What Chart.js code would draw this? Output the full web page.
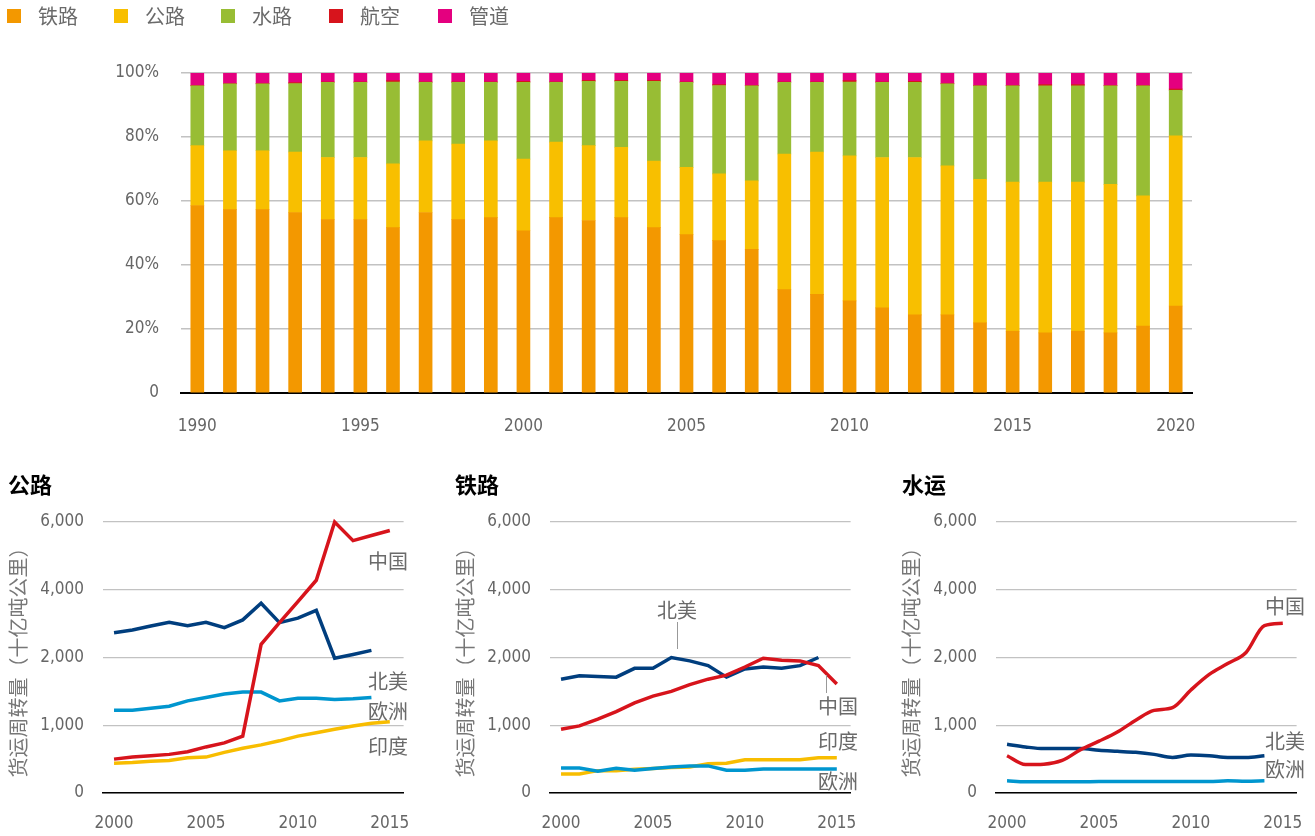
<!DOCTYPE html>
<html lang="zh">
<head>
<meta charset="utf-8">
<script src="https://cdn.jsdelivr.net/npm/chart.js@4.4.1/dist/chart.umd.min.js"></script>
<style>
  body { margin: 0; width: 1315px; height: 836px; position: relative; overflow: hidden; background: #fff;
         font-family: "Noto Sans CJK SC", sans-serif; }
  canvas { position: absolute; }
  .lg-box { position: absolute; top: 9px; width: 14px; height: 14px; }
  .lg-text { position: absolute; top: 3px; font-size: 20px; line-height: 26px; color: #6a6a6a; }
  .title { position: absolute; top: 468px; font-size: 22px; line-height: 30px; font-weight: bold; color: #000; }
  .tag { position: absolute; width: 60px; text-align: right; font-size: 20px; line-height: 20px; color: #6a6a6a; }
  .lead { position: absolute; width: 1px; background: #999; }
</style>
</head>
<body>
<canvas id="share" width="1315" height="450" style="left:0;top:0"></canvas>
<canvas id="road" width="430" height="376" style="left:0;top:460px"></canvas>
<canvas id="rail" width="430" height="376" style="left:447px;top:460px"></canvas>
<canvas id="water" width="430" height="376" style="left:893px;top:460px"></canvas>
<div id="legend"></div>
<div class="title" style="left:8px">公路</div>
<div class="title" style="left:455px">铁路</div>
<div class="title" style="left:902px">水运</div>
<div id="tags"></div>
<script>
// 上图：各运输方式占比（%）
const shareYears = [1990, 1991, 1992, 1993, 1994, 1995, 1996, 1997, 1998, 1999, 2000, 2001, 2002, 2003, 2004, 2005,
  2006, 2007, 2008, 2009, 2010, 2011, 2012, 2013, 2014, 2015, 2016, 2017, 2018, 2019, 2020];
const railShare = [58.6, 57.3, 57.3, 56.4, 54.2, 54.2, 51.7, 56.4, 54.2, 54.8, 50.7, 54.8, 53.9, 54.8, 51.7, 49.5,
  47.6, 44.9, 32.3, 30.8, 28.8, 26.6, 24.4, 24.4, 21.9, 19.3, 18.8, 19.3, 18.8, 20.9, 27.2];
const roadShare = [18.7, 18.4, 18.4, 18.9, 19.4, 19.4, 19.9, 22.4, 23.6, 24.0, 22.4, 23.6, 23.4, 22.0, 20.8, 21.0,
  20.9, 21.4, 42.4, 44.5, 45.3, 47.0, 49.2, 46.6, 44.9, 46.6, 47.1, 46.6, 46.4, 40.7, 53.2];
const waterShare = [18.7, 20.9, 20.9, 21.4, 23.5, 23.5, 25.6, 18.3, 19.3, 18.3, 24.0, 18.7, 20.1, 20.6, 24.9, 26.6,
  27.6, 29.7, 22.4, 21.8, 23.1, 23.5, 23.5, 25.6, 29.2, 30.1, 30.1, 30.1, 30.8, 34.4, 14.2];
const airShare = [0.1, 0.1, 0.1, 0.3, 0.1, 0.1, 0.4, 0.1, 0.1, 0.1, 0.3, 0.1, 0.3, 0.3, 0.3, 0.1,
  0.3, 0.1, 0.1, 0.1, 0.4, 0.1, 0.3, 0.1, 0.1, 0.1, 0.4, 0.4, 0.1, 0.1, 0.4];
const pipeShare = [3.9, 3.3, 3.3, 3.0, 2.8, 2.8, 2.4, 2.8, 2.8, 2.8, 2.6, 2.8, 2.3, 2.3, 2.3, 2.8,
  3.6, 3.9, 2.8, 2.8, 2.4, 2.8, 2.6, 3.3, 3.9, 3.9, 3.6, 3.6, 3.9, 3.9, 5.0];
const shareTickLabels = ["0", "20%", "40%", "60%", "80%", "100%"];

// 下图：货运周转量（十亿吨公里），从2000年起
const roadChina = [500, 530, 550, 570, 610, 680, 740, 840, 2390, 3030, 3650, 4280, 6000, 5450, 5600, 5750];
const roadNorthAmerica = [2730, 2810, 2930, 3040, 2940, 3040, 2880, 3110, 3600, 3030, 3160, 3390, 1990, 2090, 2210];
const roadEurope = [1220, 1220, 1250, 1280, 1360, 1410, 1460, 1490, 1490, 1360, 1400, 1400, 1380, 1390, 1410];
const roadIndia = [440, 450, 470, 480, 520, 530, 600, 660, 710, 770, 840, 890, 940, 990, 1030, 1050];

const railChina = [940, 990, 1090, 1200, 1330, 1430, 1500, 1600, 1680, 1740, 1860, 1990, 1960, 1950, 1880, 1610];
const railNorthAmerica = [1680, 1730, 1720, 1710, 1840, 1840, 2000, 1950, 1880, 1710, 1830, 1860, 1840, 1880, 2000];
const railEurope = [370, 370, 320, 365, 335, 360, 385, 400, 400, 335, 335, 355, 355, 355, 355, 355];
const railIndia = [280, 280, 330, 330, 350, 360, 375, 385, 430, 440, 490, 490, 490, 490, 520, 520];

const waterChina = [550, 420, 425, 480, 640, 765, 900, 1075, 1220, 1260, 1520, 1750, 1910, 2150, 2940, 3010];
const waterNorthAmerica = [720, 680, 655, 655, 655, 630, 615, 600, 570, 525, 560, 550, 525, 525, 550];
const waterEurope = [180, 165, 165, 165, 165, 170, 170, 170, 170, 170, 170, 170, 180, 175, 180];

const lineTickLabels = ["0", "1,000", "2,000", "4,000", "6,000"];
const lineTickYears = [2000, 2005, 2010, 2015];
const firstYear = 2000;

const C = {
  rail: "#f39800", road: "#f8bf00", water: "#98bd34", air: "#d7141c", pipe: "#e4007f",
  china: "#d7141c", na: "#003e7e", eu: "#0096cf", india: "#f8bd00"
};
const NARROW = '"Liberation Sans Narrow", "DejaVu Sans Condensed", "Roboto Condensed", sans-serif';

function main() {
  renderLegend();
  renderShareChart();

  renderLineChart("road", [
    { data: roadChina, color: C.china },
    { data: roadNorthAmerica, color: C.na },
    { data: roadEurope, color: C.eu },
    { data: roadIndia, color: C.india },
  ], 0);
  renderLineChart("rail", [
    { data: railChina, color: C.china },
    { data: railNorthAmerica, color: C.na },
    { data: railEurope, color: C.eu },
    { data: railIndia, color: C.india },
  ], 0);
  renderLineChart("water", [
    { data: waterChina, color: C.china },
    { data: waterNorthAmerica, color: C.na },
    { data: waterEurope, color: C.eu },
  ], 0.35);

  renderTags();
}

function renderLegend() {
  const items = [["铁路", C.rail, 7], ["公路", C.road, 114], ["水路", C.water, 221], ["航空", C.air, 329], ["管道", C.pipe, 438]];
  const legend = document.querySelector("#legend");
  items.forEach(([text, color, x]) => {
    legend.innerHTML += `<div class="lg-box" style="left:${x}px;background:${color}"></div>
      <div class="lg-text" style="left:${x + 31}px">${text}</div>`;
  });
}

function renderShareChart() {
  const ds = (label, data, color) => ({ label, data, backgroundColor: color, borderWidth: 0, barThickness: 13 });
  new Chart(document.querySelector("#share"), {
    type: "bar",
    data: {
      labels: shareYears,
      datasets: [
        ds("铁路", railShare, C.rail),
        ds("公路", roadShare, C.road),
        ds("水路", waterShare, C.water),
        ds("航空", airShare, C.air),
        ds("管道", pipeShare, C.pipe),
      ],
    },
    options: {
      responsive: false,
      animation: false,
      layout: { padding: { left: 0, right: 123, top: 73, bottom: 0 } },
      plugins: { legend: { display: false }, tooltip: { enabled: false } },
      scales: {
        x: {
          stacked: true,
          grid: { display: false, drawTicks: false },
          border: { color: "#000", width: 2 },
          ticks: {
            autoSkip: false, maxRotation: 0, padding: 23, color: "#666",
            font: { family: NARROW, size: 17 },
            callback: (v, i) => (shareYears[i] % 5 === 0 ? String(shareYears[i]) : ""),
          },
          afterFit: (s) => { s.height = 57; },
        },
        y: {
          stacked: true, min: 0, max: 100,
          grid: { color: "#c2c2c2", lineWidth: 1.5, drawTicks: false },
          border: { display: false },
          ticks: {
            stepSize: 20, padding: 22, color: "#666",
            font: { family: NARROW, size: 17 },
            callback: (v) => shareTickLabels[v / 20],
          },
          afterFit: (s) => { s.width = 181; },
        },
      },
    },
  });
}

// 纵轴刻度不等距：0,1000,2000 每格1000，之后每格2000
function toAxis(v) {
  return v <= 2000 ? v / 1000 : 2 + (v - 2000) / 2000;
}

function renderLineChart(id, series, tension) {
  new Chart(document.querySelector("#" + id), {
    type: "line",
    data: {
      datasets: series.map((s) => ({
        data: s.data.map((v, i) => ({ x: firstYear + i, y: toAxis(v) })),
        borderColor: s.color,
        borderWidth: 3.5,
        pointRadius: 0,
        tension: tension,
        cubicInterpolationMode: tension ? "monotone" : "default",
        clip: false,
      })),
    },
    options: {
      responsive: false,
      animation: false,
      layout: { padding: { left: 2, right: 16, top: 62, bottom: 0 } },
      plugins: { legend: { display: false }, tooltip: { enabled: false } },
      scales: {
        x: {
          type: "linear", min: 1999.4, max: 2015.75,
          grid: { display: false, drawTicks: false },
          border: { color: "#000", width: 1.5 },
          afterBuildTicks: (s) => { s.ticks = lineTickYears.map((v) => ({ value: v })); },
          ticks: { padding: 20, color: "#666", font: { family: NARROW, size: 17 }, callback: (v) => String(v) },
          afterFit: (s) => { s.height = 43; },
        },
        y: {
          min: 0, max: 4,
          grid: { color: "#c2c2c2", lineWidth: 1.3, drawTicks: false },
          border: { display: false },
          ticks: { stepSize: 1, padding: 19, color: "#666", font: { family: NARROW, size: 17 }, callback: (v) => lineTickLabels[v] },
          title: {
            display: true, text: "货运周转量（十亿吨公里）", color: "#777",
            font: { family: '"Noto Sans CJK SC", sans-serif', size: 20 }, padding: { top: 4, bottom: 0 },
          },
          afterFit: (s) => { s.width = 101; },
        },
      },
    },
  });
}

// 线条旁的地区标注
function renderTags() {
  const tags = [
    ["中国", 408, 561], ["北美", 408, 681], ["欧洲", 408, 711], ["印度", 408, 746],
    ["北美", 697, 610], ["中国", 858, 706], ["印度", 858, 741], ["欧洲", 858, 781],
    ["中国", 1305, 606], ["北美", 1305, 741], ["欧洲", 1305, 769],
  ];
  const box = document.querySelector("#tags");
  tags.forEach(([text, right, cy]) => {
    box.innerHTML += `<div class="tag" style="left:${right - 60}px;top:${cy - 10}px">${text}</div>`;
  });
  box.innerHTML += `<div class="lead" style="left:677px;top:622px;height:27px"></div>`;
  box.innerHTML += `<div class="lead" style="left:826px;top:675px;height:18px"></div>`;
}

main();
</script>
</body>
</html>
